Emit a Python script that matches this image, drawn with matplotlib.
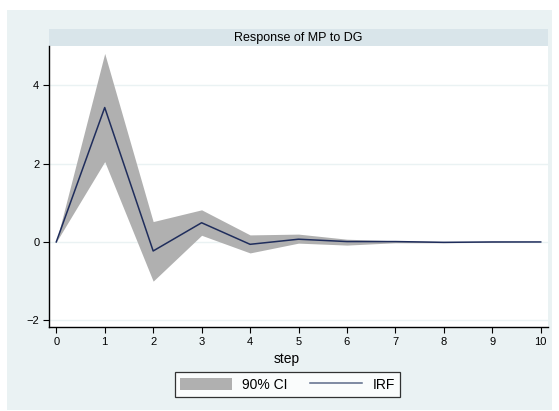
import matplotlib.pyplot as plt
from matplotlib.patches import Rectangle

plt.rcParams['font.family'] = ['Liberation Sans', 'DejaVu Sans']

# impulse response values
step = [0, 1, 2, 3, 4, 5, 6, 7, 8, 9, 10]
irf = [0, 3.43, -0.23, 0.49, -0.06, 0.07, 0.01, 0.01, -0.01, 0.0, 0.0]
ci_upper = [0, 4.81, 0.52, 0.82, 0.18, 0.2, 0.07, 0.03, 0.01, 0.01, 0.0]
ci_lower = [0, 2.05, -1.0, 0.17, -0.28, -0.03, -0.08, -0.02, -0.02, -0.01, 0.0]
yticks = [-2, 0, 2, 4]

W, H = 559, 411
fig = plt.figure(figsize=(W / 100, H / 100), dpi=100, facecolor='white')

# outer light panel
fig.patches.append(Rectangle((7 / W, 1 - 410 / H), 545 / W, 400 / H,
                             transform=fig.transFigure, facecolor='#eaf2f3',
                             edgecolor='none', zorder=-2))
# title strip
fig.patches.append(Rectangle((49 / W, 1 - 46 / H), 499 / W, 17 / H,
                             transform=fig.transFigure, facecolor='#d9e5ea',
                             edgecolor='none', zorder=-1))
fig.text((49 + 548) / 2 / W, 1 - 37.5 / H, 'Response of MP to DG',
         ha='center', va='center', fontsize=9)

ax = fig.add_axes([49 / W, 1 - 327 / H, 499 / W, 281 / H])
ax.set_zorder(2)
ax.set_facecolor('white')

band = ax.fill_between(step, ci_lower, ci_upper, color='#b0b0b0',
                       linewidth=0, label='90% CI')
line, = ax.plot(step, irf, color='#1f2d5c', linewidth=1.1, label='IRF')

ax.set_xlim(-0.15, 10.15)
ax.set_ylim(-2.17, 5.0)
ax.set_xticks(step)
ax.set_yticks(yticks)
ax.tick_params(labelsize=8, length=4, width=0.8, color='black', pad=3)
ax.yaxis.grid(True, color='#eaf2f3', linewidth=1)
ax.set_axisbelow(True)
for s in ['top', 'right']:
    ax.spines[s].set_visible(False)
for s in ['left', 'bottom']:
    ax.spines[s].set_linewidth(1)
ax.set_xlabel('step', fontsize=10, labelpad=5)
ax.xaxis.set_label_coords((287 - 49) / 499, -0.09)

leg = fig.legend(handles=[band, line], labels=['90% CI', 'IRF'], ncol=2,
                 loc='center', bbox_to_anchor=(287.5 / W, 1 - 384.5 / H),
                 fontsize=10, frameon=True, fancybox=False, edgecolor='black',
                 handlelength=3.75, handleheight=1.0, columnspacing=1.6,
                 handletextpad=0.72, borderpad=0.4)
leg.set_zorder(3)
leg.get_frame().set_linewidth(0.9)
leg.legend_handles[1].set_color('#5d6b8a')

fig.savefig('out.png', dpi=100)
